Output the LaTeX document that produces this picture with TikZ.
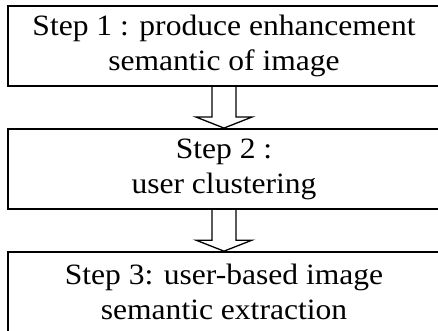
\documentclass[tikz,border=0pt]{standalone}
\usepackage{fontspec}
\setmainfont[FakeStretch=1.07]{Liberation Serif}
\usetikzlibrary{positioning,calc}
\newcommand{\blokknyil}[2]{%
  \draw[nyilkontur] ($(#1.south)+(-12,0)$) -- ($(#2.north)+(-12,11)$) -- ++(-16,0)
    -- (#2.north) -- ($(#2.north)+(28,11)$) -- ++(-16,0) -- ($(#1.south)+(12,0)$);}
\tikzset{
  lepes/.style={draw,line width=2.1pt,minimum width=432pt,minimum height=80pt,align=center,
                font=\fontsize{29.5}{35}\selectfont,inner sep=0pt},
  nyilkontur/.style={line width=1.3pt,line join=miter},
}
\begin{document}
\begin{tikzpicture}[x=1pt,y=1pt,node distance=41pt]
  \useasboundingbox (0,0) rectangle (438,-331);
  % lepesek
  \node[lepes] (s1) at (224,-46) {Step 1 : produce enhancement\\semantic of image};
  \node[lepes,below=of s1] (s2) {Step 2 :\\user clustering};
  \node[lepes,below=of s2] (s3) {Step 3: user-based image\\semantic extraction};
  % nyilak
  \blokknyil{s1}{s2}
  \blokknyil{s2}{s3}
\end{tikzpicture}
\end{document}
